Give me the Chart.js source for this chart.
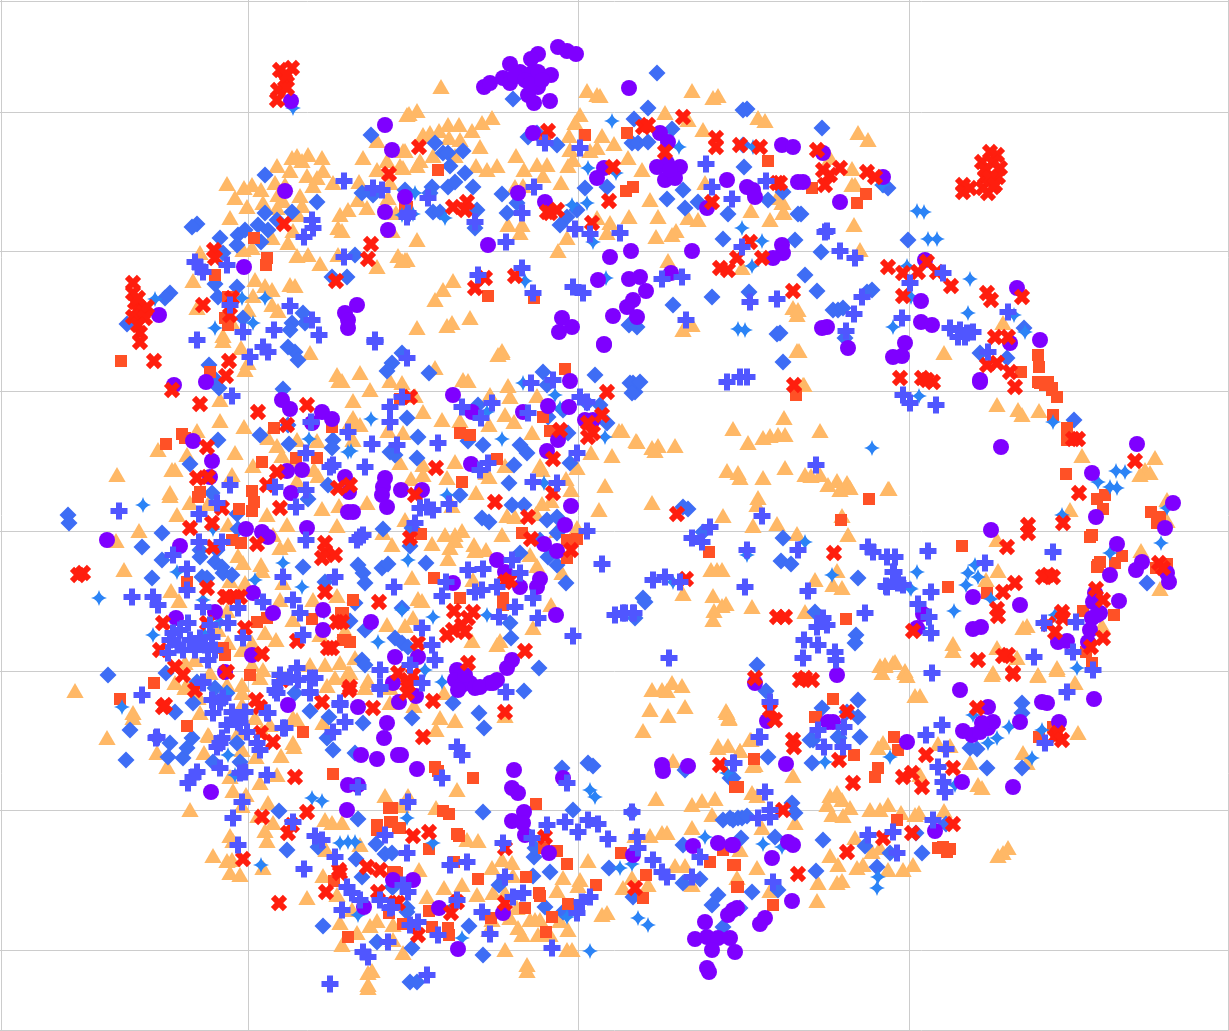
<!DOCTYPE html>
<html lang="en">
<head>
    <meta charset="UTF-8">
    <title>Scatter</title>
    <script src="https://cdn.jsdelivr.net/npm/chart.js"></script>
    <style>
        body { margin: 0; background: #fff; }
        canvas { display: block; }
    </style>
</head>
<body>
    <canvas id="grafico" width="1229" height="1031"></canvas>
<script>
// values, the axes have no labels so the units are just the reading scale
const xTicks = [1, 248, 578, 909, 1228];
const yTicks = [1, 112, 251, 391, 531, 671, 810, 950, 1030];

const purple = [[558,47],[567,51],[576,54],[538,54],[531,59],[510,64],[484,87],[490,83],[503,78],[510,83],[520,72],[532,73],[538,72],[551,75],[538,87],[528,95],[534,103],[550,101],[515,76],[525,80],[530,84],[542,80],[629,88],[488,245],[533,133],[545,202],[518,193],[604,168],[597,178],[660,133],[668,142],[657,167],[667,163],[680,167],[665,180],[675,178],[670,170],[727,180],[747,187],[753,190],[755,197],[707,208],[782,145],[793,147],[798,182],[610,257],[631,251],[692,251],[782,245],[783,253],[773,258],[671,273],[598,280],[629,279],[640,277],[646,291],[633,300],[627,307],[613,316],[637,317],[562,318],[572,327],[559,332],[604,344],[823,153],[803,182],[840,202],[883,177],[827,327],[822,328],[848,348],[905,343],[902,356],[893,357],[921,301],[925,260],[921,322],[932,325],[980,382],[980,380],[1017,288],[1010,343],[1040,340],[1001,447],[1137,444],[1092,473],[1096,517],[991,530],[1173,503],[1165,528],[1117,544],[1142,562],[1136,570],[1110,575],[1167,573],[1169,582],[1020,605],[1119,601],[973,597],[1095,593],[1093,602],[1100,613],[1092,618],[1090,630],[1088,642],[1097,615],[1058,642],[1067,641],[981,627],[973,629],[923,614],[917,628],[755,683],[837,675],[767,721],[833,722],[828,722],[786,764],[772,858],[788,842],[793,845],[792,901],[737,908],[733,845],[907,742],[960,690],[988,707],[963,731],[972,735],[980,732],[988,728],[993,722],[982,723],[962,782],[935,831],[1013,787],[1047,703],[1042,702],[1020,722],[1059,722],[1094,699],[604,345],[570,381],[453,395],[472,412],[523,412],[548,406],[569,407],[585,420],[593,420],[558,440],[547,451],[471,464],[345,477],[349,492],[385,478],[383,487],[382,495],[387,507],[401,490],[422,490],[353,512],[571,506],[565,525],[544,544],[557,551],[497,560],[505,572],[453,583],[540,579],[537,587],[520,587],[371,622],[556,615],[395,657],[418,657],[457,670],[455,680],[470,683],[490,683],[497,680],[507,668],[512,660],[462,685],[475,688],[465,675],[393,683],[458,690],[480,687],[493,683],[399,702],[416,696],[401,755],[417,769],[514,770],[512,788],[518,793],[524,812],[512,821],[523,823],[525,835],[563,778],[549,853],[458,949],[413,880],[393,880],[439,908],[503,913],[633,855],[693,846],[718,843],[732,845],[705,922],[695,939],[707,937],[718,938],[728,915],[733,910],[730,938],[712,950],[735,952],[707,968],[709,972],[662,765],[663,771],[688,766],[174,385],[206,382],[193,441],[212,461],[210,477],[282,400],[290,409],[322,412],[332,419],[312,423],[287,471],[302,470],[291,493],[348,512],[307,528],[246,529],[262,532],[268,537],[107,540],[180,546],[253,593],[176,618],[215,612],[273,613],[323,610],[323,630],[225,672],[252,655],[288,705],[211,792],[358,707],[387,723],[384,738],[361,755],[377,759],[398,755],[348,785],[358,785],[347,810],[364,907],[385,125],[392,150],[385,212],[388,230],[285,191],[244,267],[159,315],[291,101],[357,305],[345,313],[348,320],[348,328],[405,197],[760,924],[765,918]];

const redCross = [[292,68],[280,70],[285,80],[278,90],[287,88],[277,100],[287,75],[133,283],[133,293],[135,302],[137,310],[143,313],[133,317],[147,307],[140,333],[140,342],[138,298],[145,318],[138,325],[203,305],[214,250],[215,258],[284,224],[389,174],[371,244],[368,259],[336,281],[232,298],[230,315],[154,361],[172,390],[200,404],[229,361],[226,376],[258,412],[307,405],[287,425],[207,447],[197,478],[208,477],[267,485],[280,508],[222,508],[212,523],[190,528],[257,544],[325,543],[325,552],[322,558],[335,555],[83,573],[78,575],[207,588],[225,597],[235,597],[277,472],[338,488],[213,547],[325,592],[227,597],[240,597],[163,623],[160,650],[207,623],[245,628],[262,654],[175,667],[183,675],[227,672],[163,707],[165,705],[256,700],[260,707],[195,690],[297,641],[328,648],[332,648],[337,622],[282,680],[322,702],[273,742],[349,690],[373,708],[261,733],[295,777],[307,812],[262,817],[288,833],[292,825],[243,859],[279,903],[339,870],[340,873],[326,892],[367,867],[380,870],[378,892],[398,903],[410,397],[436,468],[495,502],[350,485],[415,495],[553,493],[553,459],[588,423],[593,433],[588,437],[602,415],[607,392],[560,430],[528,517],[531,539],[571,550],[410,538],[510,580],[505,582],[379,602],[454,611],[473,612],[468,618],[462,625],[453,630],[447,635],[465,632],[525,651],[418,643],[468,663],[342,622],[398,673],[413,675],[408,680],[350,687],[419,147],[453,207],[467,202],[465,210],[548,131],[550,213],[557,210],[547,212],[592,223],[609,201],[613,167],[683,117],[643,127],[648,125],[665,152],[716,138],[716,147],[740,145],[760,147],[777,183],[712,202],[750,242],[762,258],[737,258],[720,268],[728,270],[515,276],[485,278],[475,288],[793,291],[817,150],[823,170],[840,168],[830,175],[825,185],[867,172],[875,177],[780,183],[888,267],[903,273],[918,272],[927,262],[937,272],[951,286],[903,296],[987,293],[991,300],[1022,297],[995,337],[1008,337],[987,365],[997,363],[1010,372],[1015,387],[900,378],[922,378],[933,382],[927,380],[794,385],[990,152],[997,155],[982,162],[993,163],[1000,168],[985,177],[998,177],[983,188],[993,187],[988,193],[963,185],[963,192],[970,188],[985,170],[990,178],[995,185],[1007,547],[1028,525],[1028,533],[1063,523],[1079,493],[1078,439],[1073,439],[1135,461],[1048,575],[1043,577],[1053,577],[1015,583],[1003,592],[997,609],[998,616],[978,660],[1008,655],[1003,656],[1013,674],[1096,589],[1103,600],[1062,612],[1063,618],[1048,624],[1055,632],[1103,638],[1091,647],[1159,563],[1163,568],[913,631],[677,514],[834,553],[686,579],[777,617],[785,617],[800,680],[812,680],[805,678],[755,678],[770,710],[775,720],[793,740],[794,747],[847,712],[839,760],[720,765],[853,783],[847,852],[798,874],[783,810],[926,755],[953,768],[903,777],[912,773],[922,787],[883,838],[912,833],[953,824],[1055,737],[1058,733],[1062,740],[977,708],[1013,673],[433,701],[423,737],[505,712],[413,836],[429,832],[545,837],[505,848],[451,913],[457,902],[418,935],[505,903],[635,888],[395,903],[408,685],[407,693]];

const orangeSquare = [[121,361],[210,372],[166,444],[182,434],[185,438],[200,492],[198,497],[252,491],[254,502],[252,511],[239,509],[262,462],[274,428],[296,458],[317,458],[332,427],[232,540],[241,543],[187,582],[254,238],[267,258],[266,265],[215,275],[228,297],[225,318],[228,325],[405,207],[312,619],[341,613],[343,640],[257,622],[267,618],[223,648],[225,655],[250,675],[154,683],[187,726],[303,732],[120,699],[333,774],[348,937],[334,881],[377,825],[377,830],[390,822],[393,872],[389,808],[398,828],[389,913],[565,369],[400,399],[460,433],[470,435],[497,459],[462,482],[543,417],[550,431],[522,533],[421,534],[567,540],[577,539],[567,558],[434,578],[503,598],[503,605],[460,598],[353,600],[343,613],[345,640],[350,642],[796,395],[841,520],[869,499],[709,552],[846,619],[833,699],[815,717],[754,759],[854,755],[894,737],[898,750],[878,768],[875,777],[738,787],[816,717],[943,847],[950,849],[947,852],[938,848],[897,820],[735,865],[738,887],[773,905],[1039,737],[1053,727],[536,804],[435,767],[438,771],[473,778],[443,811],[449,814],[457,834],[459,836],[429,849],[454,862],[429,911],[403,924],[432,927],[448,928],[449,935],[395,872],[397,873],[478,879],[526,877],[539,893],[540,896],[525,908],[491,918],[552,917],[557,851],[544,848],[567,864],[568,904],[596,885],[546,932],[621,853],[646,875],[643,898],[710,862],[723,850],[733,865],[735,787],[737,887],[392,808],[392,822],[400,828],[1057,397],[1052,390],[1040,383],[1045,385],[1053,415],[1067,428],[1067,440],[1066,474],[1097,499],[1105,495],[1103,509],[1151,512],[1160,517],[1157,523],[1092,535],[1090,537],[962,546],[948,587],[987,593],[1122,556],[1115,563],[1098,565],[1097,567],[1100,562],[1156,568],[1167,564],[1083,611],[1114,615],[1086,652],[1092,663],[812,188],[866,194],[857,203],[1038,355],[1039,367],[1021,372],[1038,382],[1048,382],[1052,388],[438,170],[407,207],[545,139],[585,135],[627,133],[626,191],[633,187],[768,161],[488,296],[534,298]];

const tanTriangle = [[227,186],[244,190],[252,187],[261,192],[235,200],[247,209],[230,220],[263,205],[277,168],[292,160],[297,158],[308,157],[322,160],[302,163],[290,173],[307,178],[317,180],[323,173],[275,185],[285,187],[313,188],[333,185],[278,197],[283,203],[300,198],[302,208],[277,210],[298,217],[340,217],[348,212],[338,230],[342,233],[293,233],[272,240],[288,245],[252,250],[243,252],[297,258],[308,257],[320,266],[338,257],[377,269],[398,258],[405,262],[200,255],[193,283],[255,282],[265,288],[272,292],[290,287],[295,288],[253,298],[272,307],[278,313],[248,312],[197,310],[232,325],[223,338],[359,184],[358,202],[367,210],[396,215],[377,172],[363,160],[387,163],[400,168],[390,185],[388,200],[377,143],[407,117],[392,233],[403,153],[441,89],[587,93],[597,97],[600,98],[692,93],[713,100],[718,98],[665,115],[688,122],[703,132],[758,120],[765,123],[580,117],[575,125],[409,116],[417,113],[423,137],[430,135],[439,133],[448,127],[459,127],[449,140],[460,142],[472,133],[482,125],[492,120],[480,149],[405,153],[420,163],[417,168],[403,170],[433,158],[455,158],[516,158],[476,168],[487,172],[497,168],[524,172],[537,167],[547,167],[543,178],[568,168],[573,162],[561,185],[570,152],[569,138],[602,138],[590,153],[597,150],[614,146],[628,160],[642,172],[650,202],[658,219],[629,219],[610,225],[597,220],[607,235],[656,239],[672,237],[676,233],[698,222],[688,220],[751,213],[770,222],[783,215],[782,205],[777,200],[705,185],[515,189],[523,188],[508,227],[522,227],[520,235],[567,240],[417,242],[558,253],[407,262],[402,263],[742,270],[668,263],[453,283],[443,292],[435,302],[452,325],[447,328],[470,320],[417,330],[683,332],[692,327],[502,353],[793,310],[797,317],[797,353],[858,135],[868,142],[830,160],[852,171],[852,187],[855,187],[783,205],[784,215],[854,227],[860,252],[798,312],[799,353],[944,355],[804,387],[1003,325],[997,407],[1018,412],[1022,417],[1039,413],[1082,458],[889,491],[1070,512],[997,542],[1145,472],[1140,477],[1150,475],[1155,460],[1167,502],[1167,523],[1141,553],[986,582],[998,573],[1160,591],[1023,630],[1027,628],[953,646],[953,653],[997,650],[1017,660],[993,675],[1057,670],[1038,677],[885,667],[893,665],[905,673],[1102,628],[803,387],[784,420],[820,433],[733,431],[748,445],[763,440],[770,438],[778,437],[785,437],[637,444],[658,448],[652,450],[675,448],[655,453],[622,433],[727,473],[738,475],[740,480],[763,480],[785,470],[805,477],[811,478],[820,477],[828,487],[837,483],[847,485],[840,492],[850,490],[888,491],[842,518],[848,537],[652,505],[758,500],[757,507],[723,518],[753,528],[777,526],[797,536],[711,572],[717,572],[722,572],[837,573],[815,582],[833,587],[842,590],[683,596],[713,598],[726,606],[722,608],[752,609],[805,614],[714,613],[713,622],[652,692],[662,692],[672,685],[682,688],[667,693],[650,712],[685,709],[668,718],[726,713],[729,720],[643,733],[880,668],[885,668],[895,664],[905,675],[907,678],[882,675],[915,698],[718,748],[728,748],[740,753],[751,742],[673,763],[755,767],[883,745],[878,750],[360,375],[370,392],[353,403],[342,383],[390,383],[402,385],[415,398],[435,370],[463,382],[468,383],[502,355],[498,357],[508,388],[510,399],[490,397],[537,398],[505,417],[514,424],[489,427],[532,435],[353,420],[360,427],[350,425],[388,433],[403,435],[423,414],[442,422],[460,423],[353,442],[400,465],[455,464],[423,467],[423,477],[411,481],[447,480],[486,475],[489,479],[505,468],[540,468],[542,472],[577,470],[591,455],[612,458],[619,433],[636,443],[566,481],[571,492],[605,488],[476,495],[452,508],[542,506],[551,503],[507,518],[515,519],[536,516],[599,512],[577,530],[557,533],[383,535],[392,547],[367,505],[405,522],[445,537],[455,537],[462,533],[455,543],[432,546],[450,550],[448,561],[474,547],[475,553],[486,552],[502,537],[530,557],[537,568],[562,575],[412,580],[473,582],[418,601],[422,603],[387,627],[405,628],[413,620],[345,633],[472,643],[497,647],[500,643],[533,630],[551,607],[355,660],[350,675],[368,683],[416,655],[390,685],[117,477],[158,452],[124,572],[116,543],[139,533],[220,423],[244,429],[248,365],[245,372],[241,350],[223,343],[310,355],[337,377],[339,383],[220,402],[235,455],[197,433],[172,472],[175,472],[170,495],[170,498],[232,477],[190,505],[208,506],[177,517],[228,527],[253,468],[268,440],[277,448],[282,458],[297,442],[317,443],[292,466],[297,483],[314,472],[318,478],[267,517],[287,527],[322,511],[339,508],[337,528],[273,537],[280,550],[288,547],[238,558],[243,565],[261,567],[262,573],[283,585],[230,583],[245,587],[171,593],[187,457],[179,603],[245,585],[280,602],[313,602],[337,598],[293,622],[265,635],[276,642],[218,632],[227,613],[252,645],[320,637],[228,645],[242,652],[195,662],[185,665],[252,667],[263,672],[260,680],[293,720],[310,667],[325,667],[340,665],[335,680],[327,688],[347,677],[186,688],[198,698],[242,695],[227,687],[242,687],[200,715],[208,737],[255,720],[238,735],[262,733],[323,725],[270,727],[175,685],[210,675],[293,745],[75,693],[133,720],[107,740],[157,755],[167,769],[190,812],[213,858],[227,863],[232,862],[230,875],[240,877],[230,838],[233,843],[263,870],[265,833],[267,843],[273,825],[268,805],[258,818],[242,808],[246,797],[233,793],[260,785],[277,777],[230,779],[256,759],[281,758],[294,749],[242,752],[204,755],[209,738],[185,690],[198,700],[242,707],[297,722],[348,675],[365,690],[390,690],[390,705],[385,798],[307,900],[323,878],[337,897],[352,912],[340,925],[325,822],[332,825],[342,825],[360,847],[326,852],[377,923],[393,927],[370,928],[342,947],[357,935],[393,942],[368,975],[372,973],[368,987],[368,990],[133,715],[505,718],[440,720],[455,723],[436,732],[414,708],[444,695],[457,792],[408,798],[401,808],[436,810],[403,955],[467,842],[478,843],[419,872],[502,862],[512,865],[492,870],[513,878],[444,890],[462,887],[427,899],[477,897],[493,895],[505,895],[563,880],[580,882],[578,888],[557,893],[588,863],[517,910],[510,920],[492,922],[489,932],[530,922],[535,922],[540,922],[522,937],[518,930],[538,937],[550,937],[560,923],[568,932],[505,952],[567,952],[572,952],[527,967],[527,973],[602,917],[607,915],[632,880],[623,890],[648,887],[675,868],[685,868],[692,887],[635,838],[650,838],[662,835],[667,835],[692,830],[656,801],[692,807],[702,803],[715,801],[712,817],[727,715],[729,721],[718,750],[750,742],[740,753],[753,768],[793,778],[752,795],[757,798],[830,798],[837,795],[827,807],[842,802],[850,810],[843,818],[832,817],[870,812],[880,812],[888,807],[901,815],[915,817],[919,815],[944,813],[795,825],[762,830],[740,852],[855,840],[872,854],[880,850],[830,858],[838,867],[857,870],[863,867],[757,870],[888,872],[903,872],[913,867],[818,885],[837,885],[842,883],[737,880],[770,893],[817,903],[970,765],[978,787],[982,790],[920,777],[938,746],[950,748],[920,698],[992,677],[1038,678],[1057,672],[1075,685],[1078,735],[1023,755],[1027,765],[1003,855],[998,858],[1008,850]];

const blueDiamond = [[265,175],[197,224],[192,227],[220,238],[238,235],[245,230],[237,245],[258,225],[268,230],[261,242],[277,220],[292,212],[317,202],[223,253],[215,284],[237,287],[218,297],[170,293],[165,298],[127,324],[265,213],[371,135],[405,190],[373,195],[355,255],[332,277],[347,277],[243,318],[292,323],[305,323],[303,313],[290,330],[362,193],[657,73],[513,99],[648,108],[634,119],[672,129],[747,109],[743,110],[528,137],[537,133],[557,145],[435,143],[443,153],[448,153],[463,151],[450,166],[465,173],[432,187],[448,187],[455,182],[473,187],[502,194],[585,188],[607,187],[632,143],[638,143],[648,142],[743,145],[744,167],[683,190],[667,199],[685,208],[698,202],[768,200],[783,192],[728,214],[798,214],[723,239],[795,240],[673,305],[712,297],[749,292],[777,334],[629,325],[637,327],[433,212],[440,212],[477,210],[475,228],[507,213],[517,203],[577,210],[567,217],[560,225],[430,193],[822,128],[801,214],[821,252],[805,275],[817,291],[783,362],[883,185],[888,188],[908,240],[838,310],[833,310],[843,308],[845,338],[872,290],[867,292],[980,353],[1007,358],[1024,328],[780,333],[1074,420],[1147,583],[209,365],[216,380],[219,388],[283,389],[288,425],[218,440],[260,435],[289,444],[212,493],[190,464],[237,514],[238,529],[162,533],[142,547],[162,560],[152,578],[200,550],[200,557],[217,550],[215,562],[222,567],[223,573],[202,577],[207,578],[232,575],[295,352],[298,360],[288,347],[303,567],[328,485],[308,499],[333,440],[332,448],[325,582],[68,515],[69,523],[402,353],[392,363],[387,371],[429,373],[543,372],[595,375],[547,385],[630,383],[635,392],[478,405],[548,417],[563,410],[587,403],[600,405],[607,423],[568,433],[407,418],[418,437],[468,441],[483,445],[520,445],[527,453],[570,463],[514,465],[509,483],[460,495],[417,458],[390,452],[395,455],[512,505],[524,505],[482,518],[489,522],[547,520],[557,517],[383,529],[412,528],[410,546],[426,563],[358,565],[363,573],[365,583],[382,568],[388,564],[540,540],[557,533],[520,553],[548,557],[557,565],[566,583],[402,608],[510,623],[511,638],[350,621],[365,630],[395,638],[402,643],[408,647],[362,660],[365,665],[539,668],[355,603],[633,383],[640,382],[632,393],[688,509],[703,532],[783,538],[781,561],[791,564],[858,578],[643,598],[645,602],[635,618],[757,665],[766,691],[822,708],[858,700],[847,712],[858,717],[860,737],[813,740],[839,738],[768,757],[812,763],[815,612],[856,635],[855,643],[683,507],[687,767],[108,675],[175,712],[130,730],[157,738],[170,743],[168,757],[183,758],[192,738],[187,748],[126,760],[237,743],[240,762],[213,762],[295,693],[310,711],[329,717],[327,738],[333,750],[363,723],[355,753],[279,811],[358,819],[287,850],[318,847],[356,859],[376,844],[385,854],[392,853],[362,877],[393,887],[323,926],[377,942],[215,688],[227,693],[197,682],[193,703],[166,673],[524,691],[479,713],[484,728],[412,718],[453,703],[407,908],[407,912],[483,812],[562,768],[588,763],[593,766],[573,810],[534,857],[550,872],[533,876],[499,885],[545,907],[563,912],[483,955],[412,948],[410,982],[417,982],[469,926],[609,868],[633,897],[683,883],[700,879],[683,845],[685,770],[723,927],[718,895],[712,905],[723,820],[730,818],[738,818],[730,778],[632,812],[392,887],[535,848],[838,737],[810,740],[733,778],[792,803],[795,813],[733,820],[742,818],[747,816],[775,837],[741,838],[823,840],[865,846],[916,833],[946,824],[922,853],[987,768],[970,748],[977,749],[1022,703],[1022,713],[1022,768],[877,867],[890,853],[816,871],[752,892],[778,890],[740,908]];

const brightStar = [[293,108],[155,299],[242,298],[253,323],[215,328],[265,298],[612,121],[679,147],[588,168],[616,173],[587,203],[572,205],[753,147],[413,214],[415,193],[445,218],[525,281],[606,278],[593,242],[742,228],[762,241],[752,266],[738,329],[745,330],[402,215],[917,211],[924,212],[928,239],[937,239],[907,266],[911,297],[893,327],[970,279],[968,313],[1014,315],[1025,332],[882,185],[919,396],[1053,422],[1116,471],[1125,472],[1098,482],[1117,488],[1110,487],[1167,508],[1062,515],[1110,553],[917,572],[968,573],[975,565],[978,577],[966,585],[911,589],[991,599],[954,611],[1055,615],[1161,543],[1077,668],[921,628],[872,448],[805,542],[747,555],[673,582],[832,575],[910,588],[825,762],[523,383],[555,395],[371,419],[502,439],[351,451],[605,437],[447,495],[544,483],[560,408],[408,560],[433,617],[402,610],[378,642],[442,682],[425,670],[487,615],[487,412],[143,505],[213,529],[283,563],[302,587],[177,572],[309,439],[99,598],[348,452],[153,635],[203,600],[220,622],[205,635],[324,612],[227,693],[255,580],[122,707],[228,755],[312,798],[322,801],[340,843],[348,842],[355,842],[261,865],[358,915],[235,775],[433,843],[407,818],[452,907],[462,938],[590,951],[590,790],[595,797],[620,868],[632,864],[638,918],[648,925],[705,837],[567,917],[727,773],[973,715],[1009,727],[988,743],[997,738],[1032,758],[955,785],[1042,730],[782,847],[763,844],[878,877],[877,888],[890,757]];

const indigoPlus = [[344,181],[373,188],[382,190],[312,220],[313,228],[304,237],[195,262],[200,267],[203,272],[227,265],[290,306],[230,305],[243,332],[274,330],[312,320],[319,335],[344,257],[197,340],[375,340],[408,213],[534,187],[428,198],[407,217],[475,222],[522,213],[580,148],[545,143],[706,164],[712,187],[732,199],[766,181],[575,229],[590,234],[620,233],[506,242],[522,268],[478,275],[533,293],[573,287],[583,293],[662,279],[682,277],[750,302],[777,299],[686,320],[742,247],[825,232],[827,231],[840,251],[855,258],[862,297],[854,314],[846,331],[902,318],[903,395],[910,283],[950,328],[967,333],[965,337],[958,337],[960,330],[973,332],[988,352],[1008,312],[943,273],[910,403],[936,405],[928,551],[1053,552],[985,563],[887,557],[895,557],[894,572],[886,586],[898,583],[903,585],[931,592],[918,604],[929,617],[931,633],[1034,657],[932,673],[1076,622],[1044,623],[1073,652],[1093,670],[727,382],[740,377],[747,377],[762,516],[692,538],[710,527],[702,542],[747,550],[798,550],[868,547],[873,552],[893,572],[887,587],[653,580],[665,577],[680,582],[745,587],[816,465],[808,591],[865,613],[823,618],[817,627],[827,625],[804,640],[818,645],[835,652],[836,660],[803,658],[669,658],[625,613],[634,613],[770,702],[818,730],[844,727],[759,737],[824,747],[843,747],[734,763],[375,342],[407,358],[531,383],[553,380],[390,407],[402,397],[462,407],[492,403],[481,418],[528,413],[390,422],[348,432],[397,445],[372,444],[438,443],[580,397],[587,402],[577,453],[365,467],[488,463],[480,470],[533,482],[427,507],[420,508],[433,510],[449,504],[415,523],[360,537],[357,540],[363,535],[512,560],[468,570],[483,569],[520,573],[394,587],[446,582],[442,596],[497,587],[475,592],[482,590],[533,598],[515,607],[499,617],[538,618],[573,636],[602,564],[587,531],[557,483],[422,628],[432,645],[435,660],[380,670],[410,665],[422,683],[380,687],[615,615],[623,613],[633,613],[119,511],[199,514],[230,485],[232,396],[250,357],[263,347],[268,352],[275,487],[306,490],[296,507],[311,422],[306,453],[333,465],[330,467],[335,577],[283,577],[306,540],[187,569],[173,555],[199,542],[217,503],[132,597],[153,597],[187,590],[222,542],[158,605],[203,607],[263,602],[293,600],[300,613],[238,608],[173,633],[188,623],[170,640],[200,638],[212,637],[183,650],[168,653],[208,660],[203,682],[212,700],[220,702],[213,713],[232,712],[245,712],[227,725],[238,722],[247,732],[268,713],[257,743],[283,728],[333,732],[340,705],[310,678],[310,693],[297,668],[290,677],[275,690],[280,675],[303,635],[220,743],[157,737],[228,623],[243,638],[180,630],[190,640],[205,645],[215,650],[195,650],[210,625],[178,645],[142,695],[156,738],[203,683],[223,698],[240,723],[217,747],[222,738],[220,768],[260,750],[280,682],[277,693],[285,728],[310,692],[298,680],[315,678],[340,703],[345,722],[267,775],[240,773],[245,772],[197,772],[193,777],[188,783],[242,802],[233,818],[293,822],[315,836],[322,840],[335,857],[304,869],[347,887],[352,893],[360,900],[380,900],[390,908],[342,910],[363,952],[368,957],[330,984],[385,835],[388,942],[358,787],[238,845],[267,713],[380,689],[506,692],[457,747],[462,755],[442,778],[408,802],[567,783],[547,825],[565,822],[578,832],[588,820],[598,824],[608,839],[632,812],[532,838],[503,843],[407,853],[467,862],[450,865],[505,877],[403,885],[408,892],[513,897],[523,893],[482,912],[590,897],[582,902],[577,913],[638,848],[653,860],[662,872],[667,877],[692,877],[700,857],[637,837],[457,900],[418,922],[410,925],[438,935],[490,934],[552,948],[427,975],[392,907],[733,763],[760,737],[765,792],[770,810],[758,818],[770,817],[868,835],[893,832],[897,853],[933,820],[926,735],[942,725],[946,749],[938,767],[943,782],[945,792],[773,882],[1067,692],[1045,743]];

// chart.js has no four pointed star, so it gets its own little canvas
function criarEstrela() {
    const c = document.createElement('canvas');
    c.width = 18;
    c.height = 18;
    const ctx = c.getContext('2d');
    ctx.fillStyle = '#2b83f6';
    ctx.beginPath();
    ctx.moveTo(9, 1);
    ctx.quadraticCurveTo(10.5, 7.5, 17, 9);
    ctx.quadraticCurveTo(10.5, 10.5, 9, 17);
    ctx.quadraticCurveTo(7.5, 10.5, 1, 9);
    ctx.quadraticCurveTo(7.5, 7.5, 9, 1);
    ctx.fill();
    return c;
}

function serie(label, data, pointStyle, radius, color, borderWidth) {
    return {
        label: label,
        data: data,
        pointStyle: pointStyle,
        pointRadius: radius,
        pointHoverRadius: radius,
        pointBackgroundColor: color,
        pointBorderColor: color,
        pointBorderWidth: borderWidth
    };
}

// first dataset is painted last, so it ends up on top
const dados = {
    datasets: [
        serie('plus', indigoPlus, 'cross', 8.5, '#5056ff', 6),
        serie('x', redCross, 'crossRot', 8.5, '#ff1e0e', 6),
        serie('circle', purple, 'circle', 8, '#7f00ff', 0),
        serie('star', brightStar, criarEstrela(), 9, '#2b83f6', 0),
        serie('square', orangeSquare, 'rect', 8.5, '#ff5126', 0),
        serie('diamond', blueDiamond, 'rectRot', 8.5, '#3e6df5', 0),
        serie('triangle', tanTriangle, 'triangle', 10, '#ffb866', 0)
    ]
};

new Chart(document.getElementById('grafico'), {
    type: 'scatter',
    data: dados,
    options: {
        responsive: false,
        animation: false,
        layout: { padding: 0, autoPadding: false },
        plugins: { legend: { display: false }, tooltip: { enabled: false } },
        scales: {
            x: {
                min: 0,
                max: 1229,
                afterBuildTicks: function (axis) { axis.ticks = xTicks.map(v => ({ value: v })); },
                ticks: { display: false },
                grid: { color: '#cccccc', drawTicks: false },
                border: { display: false }
            },
            y: {
                min: 0,
                max: 1031,
                reverse: true,
                afterBuildTicks: function (axis) { axis.ticks = yTicks.map(v => ({ value: v })); },
                ticks: { display: false },
                grid: { color: '#cccccc', drawTicks: false },
                border: { display: false }
            }
        }
    }
});
</script>
</body>
</html>
